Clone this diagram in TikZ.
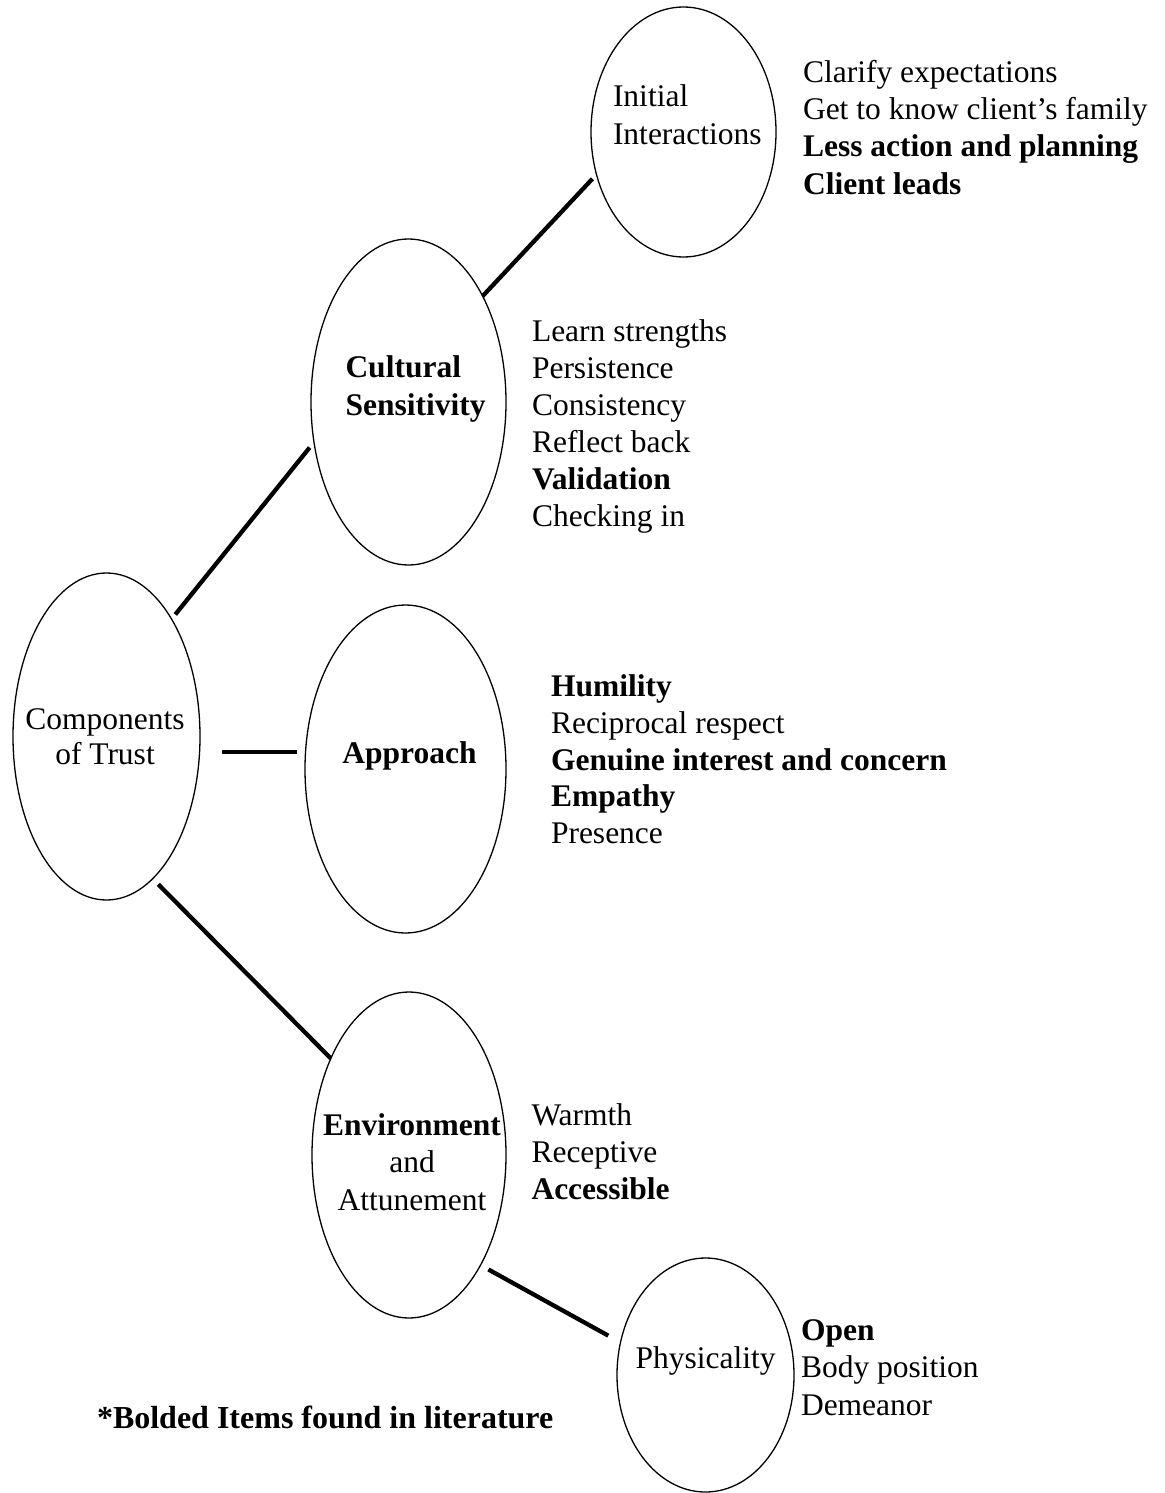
\documentclass[tikz,border=0pt]{standalone}
\usepackage{fontspec}
\setmainfont{Liberation Serif}
\usetikzlibrary{shapes.geometric}
\tikzset{
  oval/.style={draw, ellipse, line width=1.3pt, inner sep=0pt, outer sep=0pt},
  txt/.style={inner sep=0pt, outer sep=0pt, font=\fontsize{31.5}{37}\selectfont},
  link/.style={line width=4.3pt},
}
\begin{document}
\begin{tikzpicture}[x=1pt,y=-1pt]
\useasboundingbox (0,0) rectangle (1164,1493);
% ellipses
\node[oval, minimum width=185pt, minimum height=250pt] (ii) at (683.5,132) {};
\node[oval, minimum width=195pt, minimum height=326pt] (cs) at (408.5,402) {};
\node[oval, minimum width=187pt, minimum height=327pt] (ct) at (106.5,736.5) {};
\node[oval, minimum width=201pt, minimum height=328pt] (ap) at (405.5,769) {};
\node[oval, minimum width=194pt, minimum height=326pt] (ea) at (409,1155) {};
\node[oval, minimum width=177pt, minimum height=234pt] (ph) at (705.5,1375) {};
% labels in ellipses
\node[txt, anchor=base west] (ii-l1) at (613,107) {Initial};
\node[txt, anchor=base west] (ii-l2) at (613,145) {Interactions};
\node[txt, anchor=base west] (cs-l1) at (345.5,377) {\bfseries Cultural};
\node[txt, anchor=base west] (cs-l2) at (345.5,415) {\bfseries Sensitivity};
\node[txt, anchor=base] (ct-l1) at (105,729) {Components};
\node[txt, anchor=base] (ct-l2) at (105,764) {of Trust};
\node[txt, anchor=base] (ap-l) at (409.5,763) {\bfseries Approach};
\node[txt, anchor=base] (ea-l1) at (412,1135) {\bfseries Environment};
\node[txt, anchor=base] (ea-l2) at (412,1172) {and};
\node[txt, anchor=base] (ea-l3) at (412,1210) {Attunement};
\node[txt, anchor=base] (ph-l) at (705.5,1368) {Physicality};
% lists
\foreach \t [count=\i] in {Clarify expectations, Get to know client’s family, \textbf{Less action and planning}, \textbf{Client leads}}
  \node[txt, anchor=base west] (ii-i\i) at ({803},{83+37*(\i-1)}) {\t};
\foreach \t [count=\i] in {Learn strengths, Persistence, Consistency, Reflect back, \textbf{Validation}, Checking in}
  \node[txt, anchor=base west] (cs-i\i) at ({532},{341.7+37*(\i-1)}) {\t};
\foreach \t [count=\i] in {\textbf{Humility}, Reciprocal respect, \textbf{Genuine interest and concern}, \textbf{Empathy}, Presence}
  \node[txt, anchor=base west] (ap-i\i) at ({551},{696.7+36.7*(\i-1)}) {\t};
\foreach \t [count=\i] in {Warmth, Receptive, \textbf{Accessible}}
  \node[txt, anchor=base west] (ea-i\i) at ({531.5},{1125+37.2*(\i-1)}) {\t};
\foreach \t [count=\i] in {\textbf{Open}, Body position, Demeanor}
  \node[txt, anchor=base west] (ph-i\i) at ({801},{1340+37.5*(\i-1)}) {\t};
\node[txt, anchor=base west, font=\fontsize{32}{37}\selectfont] (note) at (97,1428) {\textbf{*Bolded Items found in literature}};
% connectors
\draw[link, shorten >=6pt] (cs.55) -- (ii.206);
\draw[link, shorten <=6pt, shorten >=7pt] (ct.61) -- (cs.203);
\draw[link, shorten <=22pt, shorten >=8.5pt] ([yshift=-15.5pt]ct.east) -- ([yshift=17pt]ap.west);
\draw[link, shorten <=8pt] (ct.288) -- (ea.129);
\draw[link, shorten <=9pt, shorten >=14pt] (ea.303) -- (ph.159);
\end{tikzpicture}
\end{document}
